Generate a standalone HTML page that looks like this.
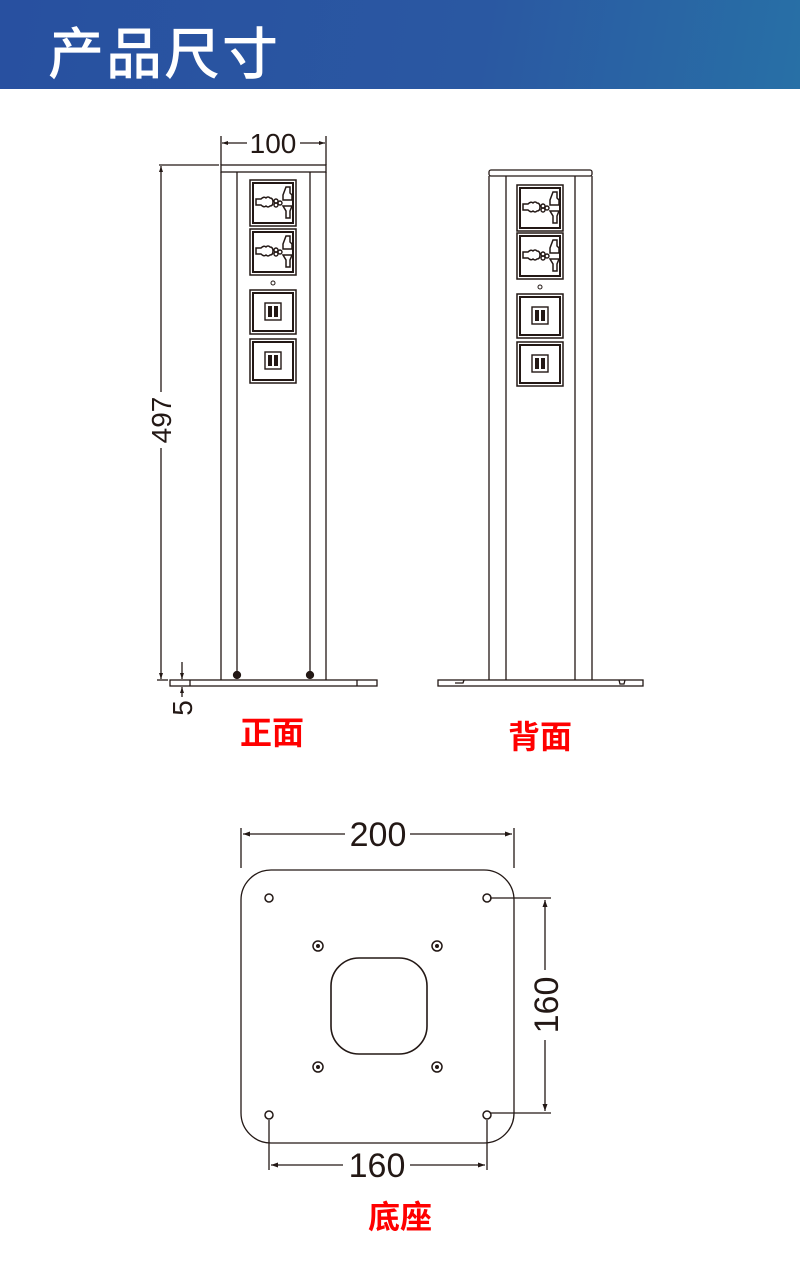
<!DOCTYPE html>
<html><head><meta charset="utf-8"><style>
html,body{margin:0;padding:0;background:#fff;width:800px;height:1280px;overflow:hidden}
.hdr{position:absolute;left:0;top:0;width:800px;height:89px;background:linear-gradient(100deg,#2850a0 0%,#2a58a2 60%,#2870a6 100%)}
.hdr span{position:absolute;left:48px;top:10px;font:500 56px "Noto Sans CJK SC",sans-serif;color:#fff;letter-spacing:2px}
svg{position:absolute;left:0;top:0}
</style></head><body>
<div class="hdr"><span>产品尺寸</span></div>
<svg width="800" height="1280" viewBox="0 0 800 1280" font-family="Liberation Sans, sans-serif">
<defs>
<g id="uni">
<rect x="0" y="0" width="46" height="46" fill="#fff" stroke="#231815" stroke-width="1.5"/>
<rect x="3" y="3" width="40" height="40" fill="none" stroke="#231815" stroke-width="2"/>
<path d="M6 19 h5 q3-3 5-1 q2-2 4 0 q3 0 3 4 q0 4-3 4 q-2 2-4 0 q-2 2-5-1 h-5 z" fill="none" stroke="#231815" stroke-width="1.5"/>
<circle cx="26" cy="21" r="2" fill="none" stroke="#231815" stroke-width="1.4"/>
<circle cx="30" cy="23" r="2" fill="none" stroke="#231815" stroke-width="1.4"/>
<circle cx="26" cy="25" r="2" fill="none" stroke="#231815" stroke-width="1.4"/>
<path d="M33 20 v-5 l3-8 h4 v6 l2 2 v5 z" fill="none" stroke="#231815" stroke-width="1.5"/>
<path d="M33 26 h9 l-2 5 v7 h-4 v-7 z" fill="none" stroke="#231815" stroke-width="1.5"/>
</g>
<g id="rj">
<rect x="0" y="0" width="46" height="44" fill="#fff" stroke="#231815" stroke-width="1.5"/>
<rect x="3" y="3" width="40" height="38" fill="none" stroke="#231815" stroke-width="2"/>
<rect x="15" y="13" width="16" height="17" fill="none" stroke="#231815" stroke-width="1.4"/>
<rect x="18" y="16" width="4" height="11" fill="#231815"/>
<rect x="24" y="16" width="4" height="11" fill="#231815"/>
</g>
</defs>
<g stroke="#231815" fill="none" stroke-width="1.3">
<rect x="221" y="165" width="105" height="7"/>
<line x1="221" y1="172" x2="221" y2="680"/><line x1="326" y1="172" x2="326" y2="680"/>
<line x1="237" y1="172" x2="237" y2="672"/><line x1="310" y1="172" x2="310" y2="672"/>
<rect x="170" y="680" width="207" height="6"/>
<line x1="190" y1="680" x2="190" y2="686"/><line x1="357" y1="680" x2="357" y2="686"/>
<circle cx="237" cy="675" r="3.5" fill="#231815"/><circle cx="310" cy="675" r="3.5" fill="#231815"/>
<line x1="221" y1="136" x2="221" y2="165"/><line x1="326" y1="136" x2="326" y2="165"/>
<line x1="222" y1="143" x2="247" y2="143"/><line x1="300" y1="143" x2="325" y2="143"/>
<line x1="159" y1="165" x2="219" y2="165"/>
<line x1="161" y1="166" x2="161" y2="392"/><line x1="161" y1="448" x2="161" y2="679"/>
<line x1="157" y1="680" x2="168" y2="680"/>
<line x1="182" y1="662" x2="182" y2="679"/><line x1="182" y1="687" x2="182" y2="697"/>
<rect x="489" y="170" width="103" height="6" rx="2"/>
<line x1="489" y1="176" x2="489" y2="680"/><line x1="592" y1="176" x2="592" y2="680"/>
<line x1="506" y1="176" x2="506" y2="680"/><line x1="575" y1="176" x2="575" y2="680"/>
<rect x="438" y="680" width="205" height="6"/>
<path d="M455 683 h8 l1-3 M619 680 l1 4 h4 l1-4"/>
<rect x="241" y="870" width="273" height="273" rx="30"/>
<rect x="331" y="958" width="96" height="96" rx="28" stroke-width="1.6"/>
<line x1="241" y1="828" x2="241" y2="868"/><line x1="514" y1="828" x2="514" y2="868"/>
<line x1="243" y1="834" x2="345" y2="834"/><line x1="410" y1="834" x2="512" y2="834"/>
<line x1="490" y1="898" x2="551" y2="898"/><line x1="490" y1="1113" x2="551" y2="1113"/>
<line x1="545" y1="900" x2="545" y2="970"/><line x1="545" y1="1040" x2="545" y2="1111"/>
<line x1="269" y1="1120" x2="269" y2="1170"/><line x1="487" y1="1120" x2="487" y2="1170"/>
<line x1="271" y1="1165" x2="343" y2="1165"/><line x1="410" y1="1165" x2="485" y2="1165"/>
</g>
<g fill="#231815">
<path d="M222 143 l6-2 v4z M325 143 l-6-2 v4z M161 166 l-2 6 h4z M161 679 l-2-6 h4z M182 679 l-2-6 h4z M182 687 l-2 6 h4z"/>
<path d="M243 834 l7-2.5 v5z M512 834 l-7-2.5 v5z M545 900 l-2.5 7 h5z M545 1111 l-2.5-7 h5z M271 1165 l7-2.5 v5z M485 1165 l-7-2.5 v5z"/>
</g>
<use href="#uni" x="250" y="180"/><use href="#uni" x="250" y="229"/>
<circle cx="273" cy="283" r="2" fill="none" stroke="#231815"/>
<use href="#rj" x="250" y="290"/><use href="#rj" x="250" y="339"/>
<use href="#uni" x="517" y="185"/><use href="#uni" x="517" y="233"/>
<circle cx="540" cy="287" r="2" fill="none" stroke="#231815"/>
<use href="#rj" x="517" y="294"/><use href="#rj" x="517" y="342"/>
<g fill="none" stroke="#231815" stroke-width="1.5">
<circle cx="269" cy="898" r="4"/><circle cx="487" cy="898" r="4"/><circle cx="269" cy="1115" r="4"/><circle cx="487" cy="1115" r="4"/>
<circle cx="318" cy="946" r="5"/><circle cx="437" cy="946" r="5"/><circle cx="318" cy="1067" r="5"/><circle cx="437" cy="1067" r="5"/>
</g>
<g fill="#231815"><circle cx="318" cy="946" r="2"/><circle cx="437" cy="946" r="2"/><circle cx="318" cy="1067" r="2"/><circle cx="437" cy="1067" r="2"/></g>
<g fill="#231815" font-size="28">
<text x="273" y="153" text-anchor="middle">100</text>
<text transform="translate(171,420) rotate(-90)" text-anchor="middle">497</text>
<text transform="translate(192,708) rotate(-90)" text-anchor="middle">5</text>
<text x="378" y="846" text-anchor="middle" font-size="34">200</text>
<text transform="translate(558,1005) rotate(-90)" text-anchor="middle" font-size="34">160</text>
<text x="377" y="1177" text-anchor="middle" font-size="34">160</text>
</g>
<g fill="#ff0000" font-family="Liberation Sans, Noto Sans CJK SC, sans-serif" font-size="32" font-weight="bold" text-anchor="middle">
<text x="272" y="744">正面</text>
<text x="540" y="748">背面</text>
<text x="400" y="1228">底座</text>
</g>
</svg>
</body></html>
